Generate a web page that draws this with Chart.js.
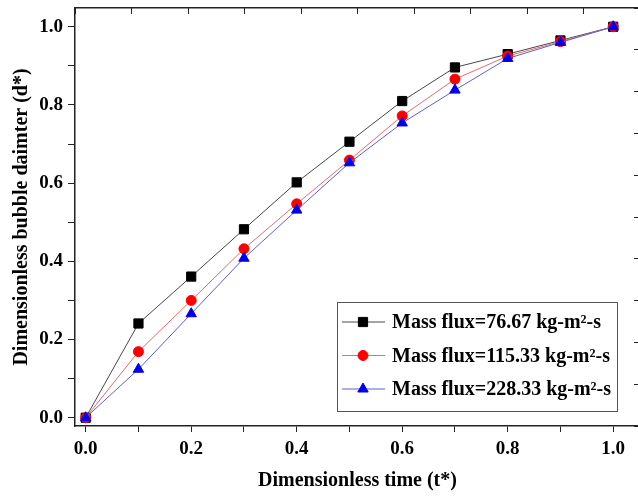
<!DOCTYPE html>
<html>
<head>
<meta charset="utf-8">
<script src="https://cdn.jsdelivr.net/npm/chart.js@4.4.0/dist/chart.umd.min.js"></script>
<style>
  html, body { margin: 0; padding: 0; overflow: hidden; background: #fff; }
  #wrap { position: relative; width: 648px; height: 496px; }
</style>
</head>
<body>
<div id="wrap"><canvas id="myLineChart" width="648" height="496"></canvas></div>
<script>
// data
var timeValues = [0, 0.1, 0.2, 0.3, 0.4, 0.5, 0.6, 0.7, 0.8, 0.9, 1.0];
var flux1Values = [0, 0.241, 0.361, 0.482, 0.602, 0.706, 0.810, 0.896, 0.930, 0.965, 1.0];
var flux2Values = [0, 0.169, 0.300, 0.432, 0.547, 0.659, 0.772, 0.866, 0.925, 0.962, 1.0];
var flux3Values = [0, 0.124, 0.266, 0.408, 0.531, 0.652, 0.754, 0.838, 0.919, 0.960, 1.0];
var seriesLabels = ['Mass flux=76.67 kg-m\u00b2-s', 'Mass flux=115.33 kg-m\u00b2-s', 'Mass flux=228.33 kg-m\u00b2-s'];
var tickValues = [0, 0.1, 0.2, 0.3, 0.4, 0.5, 0.6, 0.7, 0.8, 0.9, 1.0];

var serif = "'Liberation Serif', 'Times New Roman', serif";

function toPoints(ys) {
  return timeValues.map(function (t, i) { return { x: t, y: ys[i] }; });
}

function setTicks(scale) {
  scale.ticks = tickValues.map(function (v) { return { value: v }; });
}

function majorLabel(value, index) {
  return index % 2 === 0 ? value.toFixed(1) : '';
}

// fixed box sizes so the plot frame lands where the figure has it
function fitSize(w, h) {
  return function (s) {
    if (w !== null) s.width = w;
    if (h !== null) s.height = h;
    s.paddingTop = 0; s.paddingBottom = 0;
    s.paddingLeft = 0; s.paddingRight = 0;
  };
}

// boxed legend inside the plot, bottom right
var boxLegend = {
  id: 'boxLegend',
  afterDraw: function (chart) {
    var ctx = chart.ctx;
    var area = chart.chartArea;
    var right = area.right - 23, bottom = area.bottom - 15;
    var left = right - 280, top = bottom - 109;
    ctx.save();
    ctx.strokeStyle = '#555';
    ctx.lineWidth = 1;
    ctx.strokeRect(left + 0.5, top + 0.5, right - left, bottom - top);
    ctx.font = 'bold 20px ' + serif;
    ctx.textBaseline = 'middle';
    ctx.textAlign = 'left';
    chart.data.datasets.forEach(function (ds, i) {
      var y = top + 20 + i * 33.5;
      ctx.strokeStyle = ds.borderColor;
      ctx.lineWidth = 1;
      ctx.beginPath();
      ctx.moveTo(left + 5, y);
      ctx.lineTo(left + 48, y);
      ctx.stroke();
      ctx.fillStyle = ds.pointBackgroundColor;
      ctx.strokeStyle = ds.pointBackgroundColor;
      Chart.helpers.drawPoint(ctx, { pointStyle: ds.pointStyle, radius: ds.pointRadius, borderWidth: 1, rotation: 0 }, left + 26, y);
      ctx.fillStyle = '#000';
      ctx.fillText(ds.label, left + 55, y + 1);
    });
    ctx.restore();
  }
};

new Chart(document.getElementById('myLineChart'), {
  type: 'line',
  data: {
    datasets: [
      {
        label: seriesLabels[0],
        data: toPoints(flux1Values),
        borderColor: 'rgba(40,40,40,0.85)',
        borderWidth: 1,
        pointStyle: 'rect',
        pointRadius: 6.5,
        pointBackgroundColor: '#000',
        pointBorderColor: '#000',
        order: 2
      },
      {
        label: seriesLabels[1],
        data: toPoints(flux2Values),
        borderColor: 'rgb(228,110,110)',
        borderWidth: 1,
        pointStyle: 'circle',
        pointRadius: 5,
        pointBackgroundColor: '#ff0000',
        pointBorderColor: '#ff0000',
        order: 1
      },
      {
        label: seriesLabels[2],
        data: toPoints(flux3Values),
        borderColor: 'rgb(95,95,215)',
        borderWidth: 1,
        pointStyle: 'triangle',
        pointRadius: 6,
        pointBackgroundColor: '#0000ee',
        pointBorderColor: '#0000ee',
        order: 0
      }
    ]
  },
  options: {
    responsive: false,
    animation: false,
    devicePixelRatio: 1,
    layout: { padding: 0 },
    plugins: {
      legend: { display: false },
      tooltip: { enabled: false }
    },
    scales: {
      x: {
        type: 'linear',
        position: 'bottom',
        min: -0.0203,
        max: 1.0508,
        afterBuildTicks: setTicks,
        afterFit: fitSize(null, 70),
        ticks: {
          callback: majorLabel,
          autoSkip: false,
          maxRotation: 0,
          padding: 6,
          color: '#000',
          font: { family: serif, size: 19, weight: 'bold' }
        },
        grid: { drawOnChartArea: false, tickLength: 6, color: '#222', lineWidth: 1 },
        border: { color: '#222', width: 1.5 },
        title: {
          display: true,
          text: 'Dimensionless time (t*)',
          color: '#000',
          padding: { top: 0, bottom: 3 },
          font: { family: serif, size: 20, weight: 'bold' }
        }
      },
      y: {
        type: 'linear',
        position: 'left',
        min: -0.0212,
        max: 1.048,
        afterBuildTicks: setTicks,
        afterFit: fitSize(75, null),
        ticks: {
          callback: majorLabel,
          autoSkip: false,
          padding: 5,
          color: '#000',
          font: { family: serif, size: 19, weight: 'bold' }
        },
        grid: { drawOnChartArea: false, tickLength: 7, color: '#222', lineWidth: 1 },
        border: { color: '#222', width: 1.5 },
        title: {
          display: true,
          text: 'Dimensionless bubble daimter (d*)',
          color: '#000',
          padding: { top: 10, bottom: 0 },
          font: { family: serif, size: 20, weight: 'bold' }
        }
      },
      x2: {
        type: 'linear',
        position: 'top',
        min: 0,
        max: 1,
        afterBuildTicks: setTicks,
        afterFit: fitSize(null, 8),
        ticks: { display: false },
        grid: { drawOnChartArea: false, tickLength: -6, color: '#222', lineWidth: 1 },
        border: { color: '#222', width: 1.5 }
      },
      y2: {
        type: 'linear',
        position: 'right',
        min: 0,
        max: 1,
        afterBuildTicks: setTicks,
        afterFit: fitSize(8, null),
        ticks: { display: false },
        grid: { drawOnChartArea: false, tickLength: -6, color: '#222', lineWidth: 1 },
        border: { color: '#222', width: 1.5 }
      }
    }
  },
  plugins: [boxLegend]
});
</script>
</body>
</html>
